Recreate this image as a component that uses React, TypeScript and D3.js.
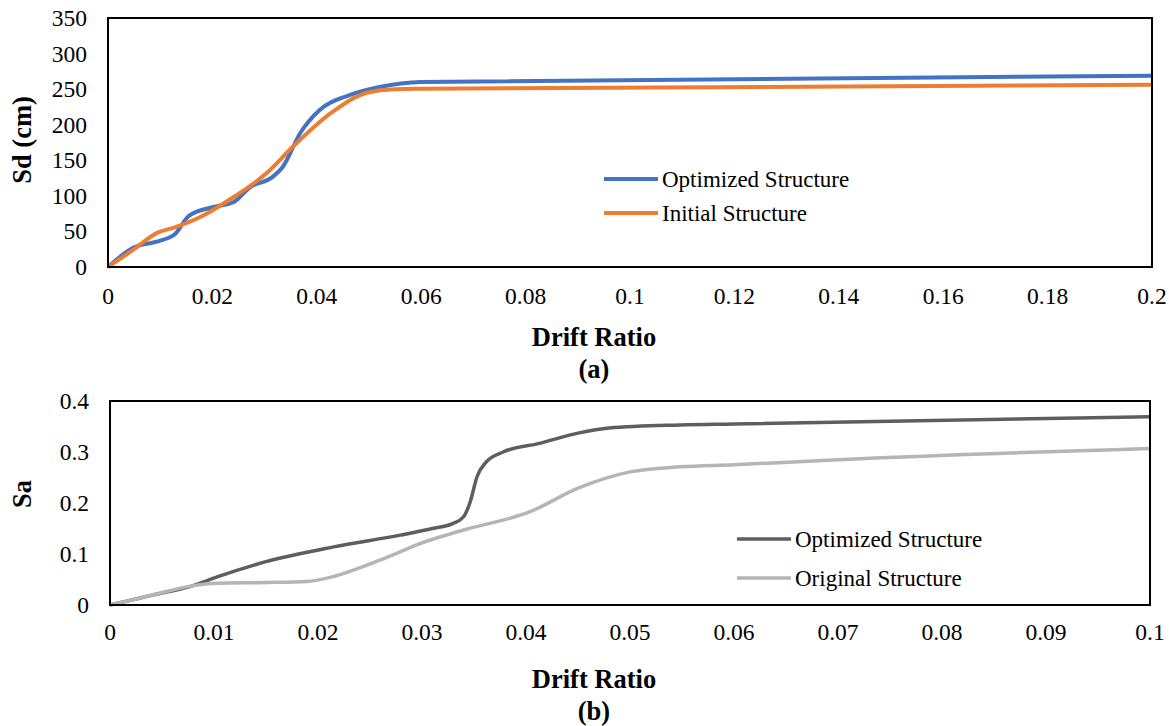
import { useEffect, useRef } from 'react';
import * as d3 from 'd3';

// (a) Sd vs drift ratio
const optAX = [0, 0.0048, 0.01, 0.0128, 0.0155, 0.02, 0.024, 0.0272, 0.0316, 0.0335, 0.0368, 0.0406, 0.0464, 0.052, 0.06, 0.2];
const optAY = [0, 27, 37, 46, 72, 84, 91, 112, 127, 141, 188, 221, 242, 253, 260, 269];
const iniAX = [0, 0.0048, 0.0094, 0.0125, 0.0176, 0.024, 0.0304, 0.0354, 0.043, 0.0496, 0.055, 0.06, 0.2];
const iniAY = [0, 24, 48, 55, 70, 98, 132, 169, 218, 245, 250, 250.5, 256];
const xTicksA = [0, 0.02, 0.04, 0.06, 0.08, 0.1, 0.12, 0.14, 0.16, 0.18, 0.2];
const yTicksA = [0, 50, 100, 150, 200, 250, 300, 350];

// (b) Sa vs drift ratio
const optBX = [0, 0.004, 0.008, 0.0103, 0.015, 0.0215, 0.0279, 0.031, 0.033, 0.034, 0.0346, 0.0353, 0.0362, 0.0378, 0.0413, 0.045, 0.048, 0.0548, 0.06, 0.1];
const optBY = [0, 0.019, 0.038, 0.055, 0.085, 0.114, 0.137, 0.15, 0.16, 0.173, 0.2, 0.252, 0.281, 0.3, 0.317, 0.337, 0.347, 0.353, 0.355, 0.369];
const orgBX = [0, 0.004, 0.008, 0.0103, 0.015, 0.0189, 0.0215, 0.0247, 0.0279, 0.029, 0.034, 0.0404, 0.045, 0.05, 0.0548, 0.06, 0.07, 0.1];
const orgBY = [0, 0.019, 0.038, 0.0425, 0.044, 0.046, 0.056, 0.078, 0.104, 0.114, 0.147, 0.183, 0.229, 0.261, 0.271, 0.275, 0.285, 0.307];
const xTicksB = [0, 0.01, 0.02, 0.03, 0.04, 0.05, 0.06, 0.07, 0.08, 0.09, 0.1];
const yTicksB = [0, 0.1, 0.2, 0.3, 0.4];

const FONT = "'Liberation Serif'";

interface Series { name: string; xs: number[]; ys: number[]; color: string; width: number; }

interface PanelSpec {
    left: number; right: number; top: number; bottom: number;
    xDomain: [number, number]; yDomain: [number, number];
    xTicks: number[]; yTicks: number[];
    yTitle: string; yTitleY: number; caption: string;
    xLabelY: number; titleY: number; captionY: number;
    legendX: number; legendY: number; legendGap: number;
    series: Series[];
}

const fmt = (v: number) => String(+v.toFixed(4));

function drawPanel(svg: d3.Selection<SVGSVGElement, unknown, null, undefined>, p: PanelSpec) {
    const x = d3.scaleLinear().domain(p.xDomain).range([p.left, p.right]);
    const y = d3.scaleLinear().domain(p.yDomain).range([p.bottom, p.top]);
    const g = svg.append('g');

    const line = d3.line<[number, number]>()
        .x(d => x(d[0]))
        .y(d => y(d[1]))
        .curve(d3.curveMonotoneX);

    p.series.forEach(s => {
        const pts = s.xs.map((v, i) => [v, s.ys[i]] as [number, number]);
        g.append('path')
            .datum(pts)
            .attr('d', line)
            .attr('fill', 'none')
            .attr('stroke', s.color)
            .attr('stroke-width', s.width)
            .attr('stroke-linejoin', 'round');
    });

    // frame
    g.append('rect')
        .attr('x', p.left).attr('y', p.top)
        .attr('width', p.right - p.left).attr('height', p.bottom - p.top)
        .attr('fill', 'none').attr('stroke', '#000').attr('stroke-width', 2);

    // tick labels
    g.selectAll('.xt').data(p.xTicks).enter().append('text')
        .attr('x', d => x(d)).attr('y', p.xLabelY)
        .attr('text-anchor', 'middle')
        .style('font-family', FONT).style('font-size', '23.5px')
        .text(d => fmt(d));

    g.selectAll('.yt').data(p.yTicks).enter().append('text')
        .attr('x', p.left - 21).attr('y', d => y(d) + 8)
        .attr('text-anchor', 'end')
        .style('font-family', FONT).style('font-size', '23.5px')
        .text(d => fmt(d));

    // titles
    g.append('text')
        .attr('x', (p.left + p.right) / 2 - 36).attr('y', p.titleY)
        .attr('text-anchor', 'middle')
        .style('font-family', FONT).style('font-size', '26.5px').style('font-weight', 'bold')
        .text('Drift Ratio');

    g.append('text')
        .attr('x', (p.left + p.right) / 2 - 36).attr('y', p.captionY)
        .attr('text-anchor', 'middle')
        .style('font-family', FONT).style('font-size', '26.5px').style('font-weight', 'bold')
        .text(p.caption);

    g.append('text')
        .attr('transform', `translate(31,${p.yTitleY}) rotate(-90)`)
        .attr('text-anchor', 'middle')
        .style('font-family', FONT).style('font-size', '26.5px').style('font-weight', 'bold')
        .text(p.yTitle);

    // legend
    p.series.forEach((s, i) => {
        const ly = p.legendY + i * p.legendGap;
        g.append('line')
            .attr('x1', p.legendX).attr('x2', p.legendX + 54)
            .attr('y1', ly).attr('y2', ly)
            .attr('stroke', s.color).attr('stroke-width', s.width);
        g.append('text')
            .attr('x', p.legendX + 58).attr('y', ly + 7.5)
            .style('font-family', FONT).style('font-size', '23px')
            .text(s.name);
    });
}

export default function App() {
    const svgRef = useRef<SVGSVGElement>(null);

    useEffect(() => {
        if (!svgRef.current) return;
        const svg = d3.select(svgRef.current);
        svg.selectAll('*').remove();

        drawPanel(svg, {
            left: 108, right: 1152, top: 18, bottom: 267,
            xDomain: [0, 0.2], yDomain: [0, 350],
            xTicks: xTicksA, yTicks: yTicksA,
            yTitle: 'Sd (cm)', yTitleY: 140, caption: '(a)',
            xLabelY: 304, titleY: 346, captionY: 378,
            legendX: 604, legendY: 179, legendGap: 34,
            series: [
                { name: 'Optimized Structure', xs: optAX, ys: optAY, color: '#4472C4', width: 4 },
                { name: 'Initial Structure', xs: iniAX, ys: iniAY, color: '#ED7D31', width: 4 },
            ],
        });

        drawPanel(svg, {
            left: 110, right: 1150, top: 401, bottom: 605,
            xDomain: [0, 0.1], yDomain: [0, 0.4],
            xTicks: xTicksB, yTicks: yTicksB,
            yTitle: 'Sa', yTitleY: 494, caption: '(b)',
            xLabelY: 640, titleY: 688, captionY: 720,
            legendX: 737, legendY: 539, legendGap: 39,
            series: [
                { name: 'Optimized Structure', xs: optBX, ys: optBY, color: '#5e5e5e', width: 3.5 },
                { name: 'Original Structure', xs: orgBX, ys: orgBY, color: '#b5b5b5', width: 3.5 },
            ],
        });
    }, []);

    return (
        <svg ref={svgRef} width={1169} height={726}
            style={{ position: 'absolute', left: 0, top: 0, background: '#fff' }} />
    );
}
